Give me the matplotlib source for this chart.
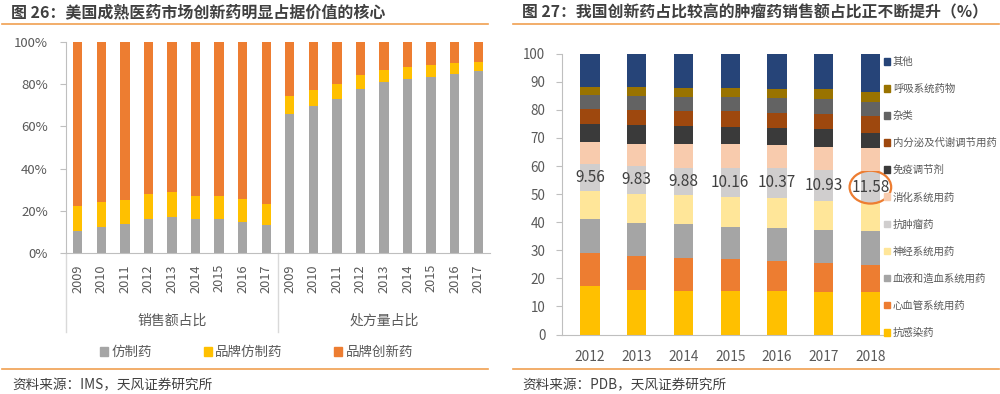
import matplotlib
matplotlib.use("Agg")
import matplotlib.pyplot as plt
from matplotlib.lines import Line2D
from matplotlib.patches import Ellipse, Patch
import numpy as np

plt.rcParams['font.family'] = ['Noto Sans CJK SC', 'DejaVu Sans']

# ---- left chart data (percent) ----
years_l = ['2009', '2010', '2011', '2012', '2013', '2014', '2015', '2016', '2017']
groups_l = ['销售额占比', '处方量占比']
series_l = ['仿制药', '品牌仿制药', '品牌创新药']
sales_generic = [10.5, 12.3, 13.9, 16.0, 16.9, 16.0, 16.0, 14.8, 13.1]
sales_brand_generic = [11.9, 12.1, 11.4, 12.2, 12.0, 10.8, 10.8, 10.9, 10.1]
sales_innovative = [77.6, 75.6, 74.7, 71.8, 71.7, 73.2, 73.2, 74.3, 76.8]
rx_generic = [66.0, 69.9, 73.2, 77.8, 81.0, 82.6, 83.5, 84.8, 86.2]
rx_brand_generic = [8.6, 7.6, 7.0, 6.5, 5.9, 5.4, 5.7, 5.2, 4.6]
rx_innovative = [25.4, 22.5, 19.8, 15.7, 13.1, 12.0, 10.8, 10.0, 9.2]

# ---- right chart data (%) ----
years_r = ['2012', '2013', '2014', '2015', '2016', '2017', '2018']
cats_r = ['抗感染药', '心血管系统用药', '血液和造血系统用药', '神经系统用药', '抗肿瘤药',
          '消化系统用药', '免疫调节剂', '内分泌及代谢调节用药', '杂类', '呼吸系统药物', '其他']
anti_infective = [17.2, 15.8, 15.4, 15.4, 15.4, 15.1, 15.1]
cardio = [12.0, 12.2, 12.0, 11.4, 10.8, 10.4, 9.7]
blood = [12.0, 11.8, 11.8, 11.4, 11.7, 11.7, 11.9]
neuro = [9.9, 10.4, 10.4, 10.8, 10.9, 10.3, 10.0]
tumor = [9.56, 9.83, 9.88, 10.16, 10.37, 10.93, 11.58]
digestive = [8.0, 8.0, 8.5, 8.6, 8.3, 8.5, 8.1]
immune = [6.2, 6.5, 6.2, 6.1, 6.1, 6.1, 5.5]
endocrine = [5.3, 5.3, 5.4, 5.6, 5.4, 5.4, 5.8]
misc = [5.0, 5.1, 5.1, 5.2, 5.4, 5.3, 5.0]
resp = [3.1, 3.1, 3.3, 3.3, 3.2, 3.6, 3.6]
other = [11.7, 12.0, 12.0, 12.0, 12.4, 12.7, 13.7]

colors_l = ['#A5A5A5', '#FFC000', '#ED7D31']
colors_r = ['#FFC000', '#ED7D31', '#A5A5A5', '#FFE699', '#D0CECE', '#F8CBAD',
            '#3A3A3A', '#9E480E', '#636363', '#997300', '#264478']

axis_c = '#BFBFBF'
text_c = '#595959'
dark_c = '#404040'
line_c = '#F0A050'

fig = plt.figure(figsize=(10, 3.94), dpi=100)

# ---------------- left chart ----------------
ax1 = fig.add_axes([0.066, 0.358, 0.424, 0.535])
stacks_l = [np.array(sales_generic + rx_generic),
            np.array(sales_brand_generic + rx_brand_generic),
            np.array(sales_innovative + rx_innovative)]
x1 = np.arange(18)
bottom = np.zeros(18)
for vals, col, name in zip(stacks_l, colors_l, series_l):
    ax1.bar(x1, vals, 0.4, bottom=bottom, color=col, label=name, linewidth=0)
    bottom += vals
ax1.set_xlim(-0.5, 17.5)
ax1.set_ylim(0, 100)
ax1.set_yticks(range(0, 101, 20))
ax1.set_yticklabels([f'{v}%' for v in range(0, 101, 20)])
ax1.set_xticks(x1)
ax1.set_xticklabels(years_l + years_l, rotation=90)
for s in ['top', 'right']:
    ax1.spines[s].set_visible(False)
for s in ['left', 'bottom']:
    ax1.spines[s].set_color(axis_c)
ax1.tick_params(axis='y', colors=axis_c, labelcolor=text_c, labelsize=9.5, length=4, pad=9)
ax1.tick_params(axis='x', length=0, labelcolor=text_c, labelsize=9.2, pad=8)
tr = ax1.get_xaxis_transform()
for xb in [-0.5, 8.5]:
    ax1.plot([xb, xb], [0, -0.375], transform=tr, color='#D9D9D9', lw=1, clip_on=False)
for i, g in enumerate(groups_l):
    ax1.text(4 + 9 * i, -0.32, g, transform=tr, ha='center', va='center',
             fontsize=10, color=text_c)
fig.legend(handles=[Patch(color=c, label=n) for c, n in zip(colors_l, series_l)],
           loc='center left', bbox_to_anchor=(0.088, 1 - 352 / 394), ncol=3,
           frameon=False, fontsize=9.7, handlelength=0.62, handleheight=0.62,
           handletextpad=0.25, columnspacing=3.8, labelcolor=text_c)

# ---------------- right chart ----------------
ax2 = fig.add_axes([0.562, 0.151, 0.321, 0.7125])
stacks_r = [anti_infective, cardio, blood, neuro, tumor, digestive, immune,
            endocrine, misc, resp, other]
x2 = np.arange(len(years_r))
bottom = np.zeros(len(years_r))
for vals, col, name in zip(stacks_r, colors_r, cats_r):
    vals = np.array(vals)
    ax2.bar(x2, vals, 0.41, bottom=bottom, color=col, label=name, linewidth=0)
    if name == '抗肿瘤药':
        for xi, v, bt in zip(x2, vals, bottom):
            ax2.text(xi, bt + v / 2, f'{v:.2f}', ha='center', va='center',
                     fontsize=11, color=dark_c)
        ax2.add_patch(Ellipse((x2[-1], bottom[-1] + vals[-1] / 2), 0.89, 11.7,
                              fill=False, ec='#ED7D31', lw=1.6, clip_on=False))
    bottom += vals
ax2.set_xlim(-0.6, 6.27)
ax2.set_ylim(0, 100)
ax2.set_yticks(range(0, 101, 10))
ax2.set_xticks(x2)
ax2.set_xticklabels(years_r)
for s in ['top', 'right']:
    ax2.spines[s].set_visible(False)
for s in ['left', 'bottom']:
    ax2.spines[s].set_color(axis_c)
ax2.tick_params(axis='y', colors=axis_c, labelcolor=text_c, labelsize=9.7, length=4, pad=8)
ax2.tick_params(axis='x', length=0, labelcolor=text_c, labelsize=9.9, pad=11)
fig.legend(handles=[Patch(color=c, label=n) for c, n in zip(colors_r[::-1], cats_r[::-1])],
           loc='upper left', bbox_to_anchor=(0.884, 1 - 57 / 394), frameon=False,
           fontsize=7.5, handlelength=0.6, handleheight=0.6, handletextpad=0.25,
           labelspacing=1.62, borderpad=0, borderaxespad=0, labelcolor=text_c)

# ---------------- titles, rules, sources ----------------
fig.text(0.011, 1 - 12 / 394, '图 26：美国成熟医药市场创新药明显占据价值的核心',
         fontsize=11.5, weight='bold', color=dark_c, va='center')
fig.text(0.522, 1 - 12 / 394, '图 27：我国创新药占比较高的肿瘤药销售额占比正不断提升（%）',
         fontsize=11.4, weight='bold', color=dark_c, va='center')
for x0, x1_ in [(0.002, 0.488), (0.513, 0.999)]:
    for yy in [1 - 24 / 394, 1 - 369 / 394]:
        fig.add_artist(Line2D([x0, x1_], [yy, yy], color=line_c, lw=1.2))
fig.text(0.012, 1 - 385 / 394, '资料来源：IMS，天风证券研究所', fontsize=9.8,
         color=dark_c, va='center')
fig.text(0.522, 1 - 385 / 394, '资料来源：PDB，天风证券研究所', fontsize=9.8,
         color=dark_c, va='center')

fig.savefig('out.png', dpi=100)
